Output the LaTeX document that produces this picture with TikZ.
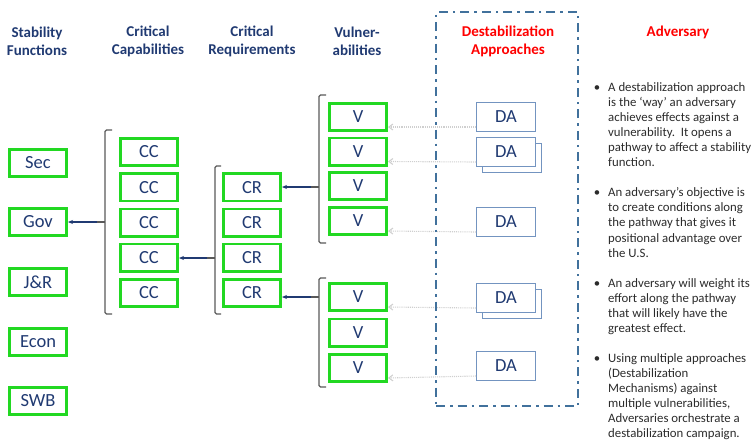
\documentclass[tikz,border=0pt]{standalone}
\usepackage{fontspec}
\setmainfont{Carlito}
\usetikzlibrary{positioning, arrows.meta}
\definecolor{navyCol}{HTML}{203A72}
\definecolor{greenCol}{HTML}{22D822}
\definecolor{braceCol}{HTML}{595959}
\definecolor{zoneCol}{HTML}{41719C}
\definecolor{daCol}{HTML}{7394C0}
\definecolor{hintCol}{HTML}{CFCFCF}
\definecolor{redCol}{HTML}{FF0000}
\definecolor{noteCol}{HTML}{2B2B2B}

\begin{document}
\begin{tikzpicture}[
    x=1pt, y=1pt,
    % Node styles
    header/.style={
        font=\fontsize{15}{18}\selectfont\bfseries,
        text=navyCol,
        align=center
    },
    greenbox/.style={
        rectangle,
        draw=greenCol,
        fill=white,
        line width=2.6pt,
        font=\fontsize{18.5}{20}\selectfont,
        text=navyCol,
        minimum width=57.4pt,
        minimum height=27.4pt,
        inner sep=0pt
    },
    dabox/.style={
        rectangle,
        draw=daCol,
        fill=white,
        line width=1.2pt,
        font=\fontsize{18.5}{20}\selectfont,
        text=navyCol,
        minimum width=58.8pt,
        minimum height=28.8pt,
        inner sep=0pt
    },
    brack/.style={
        draw=braceCol,
        line width=1.3pt,
        rounded corners=1.5pt
    },
    arrow/.style={
        -{Stealth[length=5pt, width=4pt]},
        line width=1.1pt,
        draw=navyCol
    },
    hintarrow/.style={
        -{Straight Barb[length=4pt, width=6pt]},
        line width=1.1pt,
        draw=hintCol,
        densely dotted
    }
]
    \useasboundingbox (0,0) rectangle (755,-445);

    % ==== HEADERS ====
    \node[header] (hsf) at (37,-41) {Stability\\Functions};
    \node[header] (hcc) at (148,-41) {Critical\\Capabilities};
    \node[header] (hcr) at (252,-41) {Critical\\Requirements};
    \node[header] (hv) at (357,-41) {Vulner-\\abilities};
    \node[header, text=redCol] (hda) at (508,-41) {Destabilization\\Approaches};
    \node[header, text=redCol] (hadv) at (678,-32) {Adversary};

    % ==== STABILITY FUNCTIONS ====
    \node[greenbox] (sec) at (38,-163) {Sec};
    \node[greenbox] (gov) at (38,-222) {Gov};
    \node[greenbox] (jr) at (38,-282) {J\&R};
    \node[greenbox] (econ) at (38,-342) {Econ};
    \node[greenbox] (swb) at (38,-401) {SWB};

    % ==== CRITICAL CAPABILITIES ====
    \node[greenbox] (cc1) at (149,-152) {CC};
    \node[greenbox] (cc2) at (149,-187.3) {CC};
    \node[greenbox] (cc3) at (149,-222.5) {CC};
    \node[greenbox] (cc4) at (149,-257.8) {CC};
    \node[greenbox] (cc5) at (149,-293) {CC};

    % ==== CRITICAL REQUIREMENTS ====
    \node[greenbox] (cr1) at (252,-187.3) {CR};
    \node[greenbox] (cr2) at (252,-222.5) {CR};
    \node[greenbox] (cr3) at (252,-257.8) {CR};
    \node[greenbox] (cr4) at (252,-293) {CR};

    % ==== VULNERABILITIES ====
    \node[greenbox] (v1) at (358,-117) {V};
    \node[greenbox] (v2) at (358,-151.5) {V};
    \node[greenbox] (v3) at (358,-186) {V};
    \node[greenbox] (v4) at (358,-221) {V};
    \node[greenbox] (v5) at (358,-297) {V};
    \node[greenbox] (v6) at (358,-332.5) {V};
    \node[greenbox] (v7) at (358,-368) {V};

    % Brackets and links back to the left
    \draw[brack] (112,-130) -- (105,-130) -- (105,-314) -- (112,-314);
    \draw[brack] (105,-222) -- (97,-222) coordinate (ccnub);
    \draw[arrow] (ccnub) -- (gov.east);

    \draw[brack] (221,-166) -- (215,-166) -- (215,-314) -- (221,-314);
    \draw[brack] (215,-258) -- (207,-258) coordinate (crnub);
    \draw[arrow] (crnub) -- (crnub -| cc4.east);

    \draw[brack] (326,-95) -- (319,-95) -- (319,-243) -- (326,-243);
    \draw[brack] (319,-187) -- (311,-187) coordinate (vnubA);
    \draw[arrow] (vnubA) -- (vnubA -| cr1.east);

    \draw[brack] (326,-278) -- (319,-278) -- (319,-387) -- (326,-387);
    \draw[brack] (319,-297) -- (311,-297) coordinate (vnubB);
    \draw[arrow] (vnubB) -- (vnubB -| cr4.east);

    % ==== DESTABILIZATION APPROACHES ====
    \node[dabox] (da1) at (506,-117) {DA};
    \node[dabox] (da2b) at (512,-158) {};
    \node[dabox] (da2) at (506,-152) {DA};
    \node[dabox] (da3) at (506,-222) {DA};
    \node[dabox] (da4b) at (512,-304) {};
    \node[dabox] (da4) at (506,-298) {DA};
    \node[dabox] (da5) at (506,-366) {DA};

    \draw[hintarrow] ([yshift=-10pt]da1.west) -- ([yshift=-10pt]v1.east);
    \draw[hintarrow] ([yshift=-10pt]da2.west) -- ([yshift=-10pt]v2.east);
    \draw[hintarrow] ([yshift=-10pt]da3.west) -- ([yshift=-10pt]v4.east);
    \draw[hintarrow] ([yshift=-10pt]da4.west) -- ([yshift=-10pt]v5.east);
    \draw[hintarrow] ([yshift=-10pt]da5.west) -- ([yshift=-10pt]v7.east);

    % Dash-dot frame round the approaches
    \node[draw=zoneCol, line width=2.9pt, dash pattern=on 9pt off 5pt on 2.5pt off 5pt,
          minimum width=142pt, minimum height=394pt, inner sep=0pt] (dazone) at (507,-209) {};

    % ==== ADVERSARY NOTES ====
    \node[font=\fontsize{12.8}{15.05}\selectfont, text=noteCol, align=left, anchor=north west, inner sep=0pt] (advnote) at (608,-82.5) {
        \llap{\textbullet\hspace{8pt}}A destabilization approach\\
        is the ‘way’ an adversary\\
        achieves effects against a\\
        vulnerability.\ \ It opens a\\
        pathway to affect a stability\\
        function.\\[15pt]
        \llap{\textbullet\hspace{8pt}}An adversary’s objective is\\
        to create conditions along\\
        the pathway that gives it\\
        positional advantage over\\
        the U.S.\\[15pt]
        \llap{\textbullet\hspace{8pt}}An adversary will weight its\\
        effort along the pathway\\
        that will likely have the\\
        greatest effect.\\[15pt]
        \llap{\textbullet\hspace{8pt}}Using multiple approaches\\
        (Destabilization\\
        Mechanisms) against\\
        multiple vulnerabilities,\\
        Adversaries orchestrate a\\
        destabilization campaign.
    };

\end{tikzpicture}
\end{document}
